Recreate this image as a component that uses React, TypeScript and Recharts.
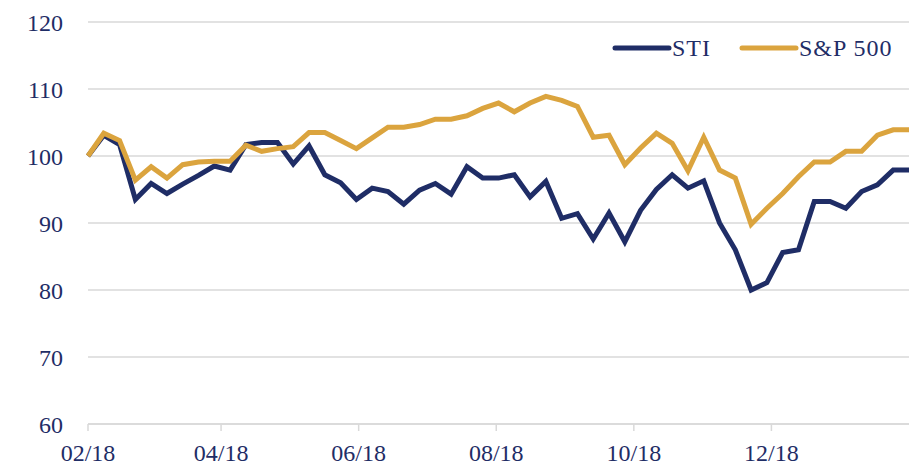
import React from 'react';
import { LineChart, Line, XAxis, YAxis, CartesianGrid } from 'recharts';

// weekly observations, rebased to 100
const dates = [
    '2018-02-01', '2018-02-08', '2018-02-15', '2018-02-22',
    '2018-03-01', '2018-03-08', '2018-03-15', '2018-03-22', '2018-03-29',
    '2018-04-05', '2018-04-12', '2018-04-19', '2018-04-26',
    '2018-05-03', '2018-05-10', '2018-05-17', '2018-05-24', '2018-05-31',
    '2018-06-07', '2018-06-14', '2018-06-21', '2018-06-28',
    '2018-07-05', '2018-07-12', '2018-07-19', '2018-07-26',
    '2018-08-02', '2018-08-09', '2018-08-16', '2018-08-23', '2018-08-30',
    '2018-09-06', '2018-09-13', '2018-09-20', '2018-09-27',
    '2018-10-04', '2018-10-11', '2018-10-18', '2018-10-25',
    '2018-11-01', '2018-11-08', '2018-11-15', '2018-11-22', '2018-11-29',
    '2018-12-06', '2018-12-13', '2018-12-20', '2018-12-27',
    '2019-01-03', '2019-01-10', '2019-01-17', '2019-01-24', '2019-01-31'
];

const sti = [
    100, 103.1, 101.7, 93.5, 95.9, 94.4, 95.8, 97.1, 98.5, 97.9,
    101.7, 102, 102, 98.8, 101.5, 97.2, 96, 93.5, 95.2, 94.7,
    92.8, 94.9, 95.9, 94.3, 98.4, 96.7, 96.7, 97.2, 93.9, 96.2,
    90.7, 91.4, 87.6, 91.5, 87.2, 91.9, 95, 97.2, 95.2, 96.3,
    90, 86, 80, 81.1, 85.6, 86, 93.2, 93.2, 92.2, 94.7,
    95.7, 97.9, 97.9
];

const sp500 = [
    100, 103.4, 102.3, 96.4, 98.4, 96.7, 98.7, 99.1, 99.2, 99.2,
    101.6, 100.7, 101.1, 101.4, 103.5, 103.5, 102.3, 101.1, 102.7, 104.3,
    104.3, 104.7, 105.5, 105.5, 106, 107.1, 107.9, 106.6, 107.9, 108.9,
    108.3, 107.4, 102.8, 103.1, 98.7, 101.2, 103.4, 101.9, 97.8, 102.8,
    97.9, 96.7, 89.8, 92.2, 94.4, 96.9, 99.1, 99.1, 100.7, 100.7,
    103.1, 103.9, 103.9
];

const tickDates = ['2018-02-01', '2018-04-01', '2018-06-01', '2018-08-01', '2018-10-01', '2018-12-01'];
const tickLabels = ['02/18', '04/18', '06/18', '08/18', '10/18', '12/18'];
const yTicks = [60, 70, 80, 90, 100, 110, 120];

const NAVY = '#1F2D66';
const GOLD = '#DBA43E';
const GRID = '#D9D9D9';
const FONT = '"Liberation Serif", "Times New Roman", serif';

const dayOf = (d: string) => (Date.parse(d) - Date.parse(dates[0])) / 86400000;

const chartData = dates.map((d, i) => ({ day: dayOf(d), sti: sti[i], sp500: sp500[i] }));
const tickDays = tickDates.map(dayOf);
const lastDay = dayOf(dates[dates.length - 1]);

const legendItems = [
    { label: 'STI', color: NAVY },
    { label: 'S&P 500', color: GOLD }
];

const ChartLegend = () => (
    <div
        style={{
            position: 'absolute',
            top: 36,
            left: 612,
            display: 'flex',
            alignItems: 'center',
            fontFamily: FONT,
            fontSize: 24,
            letterSpacing: 1,
            color: NAVY
        }}
    >
        {legendItems.map((item, i) => (
            <div key={item.label} style={{ display: 'flex', alignItems: 'center', marginLeft: i === 0 ? 0 : 28 }}>
                <svg width={60} height={10}>
                    <line x1={3} y1={5} x2={57} y2={5} stroke={item.color} strokeWidth={5} strokeLinecap="round" />
                </svg>
                <span style={{ lineHeight: '24px' }}>{item.label}</span>
            </div>
        ))}
    </div>
);

export default function App() {
    const tickStyle = { fill: NAVY, fontSize: 24, fontFamily: FONT };

    return (
        <div style={{ position: 'absolute', left: 0, top: 0, width: 922, height: 469, background: '#fff' }}>
            <LineChart width={922} height={469} data={chartData} margin={{ top: 22, right: 13, left: 28, bottom: 0 }}>
                <CartesianGrid vertical={false} stroke={GRID} strokeWidth={1.5} />
                <XAxis
                    dataKey="day"
                    type="number"
                    domain={[0, lastDay]}
                    ticks={tickDays}
                    tickFormatter={(v: number) => tickLabels[tickDays.indexOf(v)] ?? ''}
                    height={45}
                    stroke={GRID}
                    strokeWidth={1.5}
                    tickSize={7}
                    tickMargin={13}
                    tick={tickStyle}
                />
                <YAxis
                    domain={[60, 120]}
                    ticks={yTicks}
                    width={60}
                    axisLine={false}
                    tickLine={false}
                    tickSize={0}
                    tickMargin={25}
                    tick={tickStyle}
                />
                <Line
                    type="linear"
                    dataKey="sti"
                    stroke={NAVY}
                    strokeWidth={5}
                    dot={false}
                    isAnimationActive={false}
                />
                <Line
                    type="linear"
                    dataKey="sp500"
                    stroke={GOLD}
                    strokeWidth={5}
                    dot={false}
                    isAnimationActive={false}
                />
            </LineChart>
            <ChartLegend />
        </div>
    );
}
